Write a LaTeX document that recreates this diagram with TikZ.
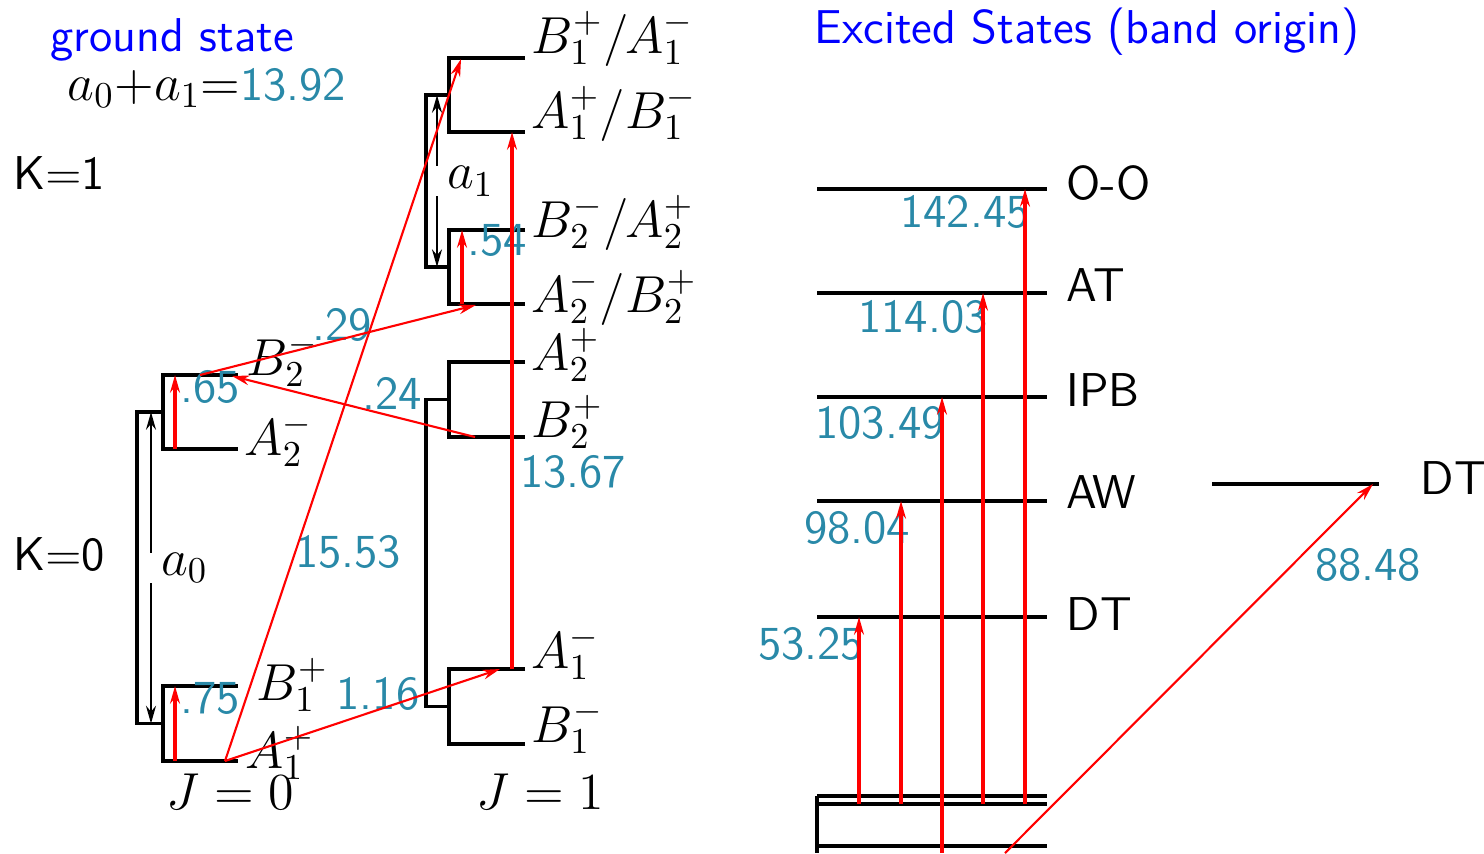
\RequirePackage{fix-cm}
\documentclass[tikz,border=0pt]{standalone}
\usetikzlibrary{arrows.meta}
\definecolor{red}{RGB}{255,0,0}
\definecolor{blue}{RGB}{0,0,255}
\definecolor{num}{RGB}{41,137,168}

\begin{document}
\begin{tikzpicture}[font=\sffamily\fontsize{13.5}{16}\selectfont]
	\def\tip{Stealth[length=5pt,width=2.8pt]}

	\tikzset{lev/.style={draw,line width=1.05pt}}
	\tikzset{brk/.style={draw,line width=0.9pt}}
	\tikzset{arrow/.style={draw,red,line width=0.9pt,-{\tip}}}
	\tikzset{diag/.style={arrow,line width=0.6pt}}
	\tikzset{dim/.style={draw,line width=0.8pt,{\tip}-{\tip}}}
	\tikzset{gaplbl/.style={fill=white,anchor=west,inner xsep=3.5pt,inner ysep=0pt,xshift=-1pt,font=\fontsize{14.8}{18}\selectfont}}
	\tikzset{val/.style={text=num,inner sep=0pt}}
	\tikzset{sym/.style={anchor=base west,inner sep=0pt,font=\fontsize{14.8}{18}\selectfont}}
	\tikzset{lbl/.style={anchor=west,inner sep=0pt}}

	\useasboundingbox (0,0) rectangle (14.84,-8.53);

	% titles
	\node[blue] (gs) at (1.72,-0.40) {ground state};
	\node[anchor=base west,inner sep=0pt] (sum) at (0.67,-1.00) {{\fontsize{14.8}{18}\selectfont$a_0{+}a_1{=}$}\textcolor{num}{13.92}};
	\node (k1) at (0.59,-1.73) {K$=$1};
	\node (k0) at (0.59,-5.55) {K$=$0};
	\node[blue] (es) at (10.87,-0.32) {Excited States (band origin)};

	% J = 0 levels
	\coordinate (a1pL) at (1.63,-7.61);
	\coordinate (a1pR) at (2.38,-7.61);
	\coordinate (b1pL) at (1.63,-6.86);
	\coordinate (b1pR) at (2.38,-6.86);
	\coordinate (a2mL) at (1.63,-4.49);
	\coordinate (a2mR) at (2.38,-4.49);
	\coordinate (b2mL) at (1.63,-3.75);
	\coordinate (b2mR) at (2.38,-3.75);
	\coordinate (k0in) at (1.63,-7.235);
	\coordinate (k0out) at (1.37,-7.235);
	\coordinate (k1in) at (1.63,-4.12);
	\coordinate (k1out) at (1.37,-4.12);
	\coordinate (a0bot) at (1.51,-7.235);
	\coordinate (a0top) at (1.51,-4.12);

	\path[lev] (b1pR) -- (b1pL) -- (a1pL) -- (a1pR);
	\path[lev] (b2mR) -- (b2mL) -- (a2mL) -- (a2mR);
	\path[brk] (k1in) -- (k1out) -- (k0out) -- (k0in);
	\path[dim] (a0top) -- node[gaplbl] {$a_0$} (a0bot);

	% J = 1 levels
	\coordinate (ba1L) at (4.49,-0.58);
	\coordinate (ba1R) at (5.25,-0.58);
	\coordinate (ab1L) at (4.49,-1.32);
	\coordinate (ab1R) at (5.25,-1.32);
	\coordinate (ba2L) at (4.49,-2.30);
	\coordinate (ba2R) at (5.25,-2.30);
	\coordinate (ab2L) at (4.49,-3.04);
	\coordinate (ab2R) at (5.25,-3.04);
	\coordinate (a2pL) at (4.49,-3.62);
	\coordinate (a2pR) at (5.25,-3.62);
	\coordinate (b2pL) at (4.49,-4.37);
	\coordinate (b2pR) at (5.25,-4.37);
	\coordinate (a1mL) at (4.49,-6.69);
	\coordinate (a1mR) at (5.25,-6.69);
	\coordinate (b1mL) at (4.49,-7.44);
	\coordinate (b1mR) at (5.25,-7.44);
	\coordinate (u1in) at (4.49,-0.95);
	\coordinate (u1out) at (4.26,-0.95);
	\coordinate (u2in) at (4.49,-2.67);
	\coordinate (u2out) at (4.26,-2.67);
	\coordinate (a1top) at (4.37,-0.95);
	\coordinate (a1bot) at (4.37,-2.67);
	\coordinate (w1in) at (4.49,-3.995);
	\coordinate (w1out) at (4.26,-3.995);
	\coordinate (w2in) at (4.49,-7.065);
	\coordinate (w2out) at (4.26,-7.065);

	\path[lev] (ba1R) -- (ba1L) -- (ab1L) -- (ab1R);
	\path[lev] (ba2R) -- (ba2L) -- (ab2L) -- (ab2R);
	\path[lev] (a2pR) -- (a2pL) -- (b2pL) -- (b2pR);
	\path[lev] (a1mR) -- (a1mL) -- (b1mL) -- (b1mR);
	\path[brk] (u1in) -- (u1out) -- (u2out) -- (u2in);
	\path[brk] (w1in) -- (w1out) -- (w2out) -- (w2in);
	\path[dim] (a1top) -- node[gaplbl] {$a_1$} (a1bot);

	% symmetry labels
	\node[sym] (lba1) at (5.31,-0.53) {$B_1^+/A_1^-$};
	\node[sym] (lab1) at (5.31,-1.28) {$A_1^+/B_1^-$};
	\node[sym] (lba2) at (5.31,-2.37) {$B_2^-/A_2^+$};
	\node[sym] (lab2) at (5.31,-3.12) {$A_2^-/B_2^+$};
	\node[sym] (la2p) at (5.31,-3.70) {$A_2^+$};
	\node[sym] (lb2p) at (5.31,-4.37) {$B_2^+$};
	\node[sym] (la1m) at (5.31,-6.68) {$A_1^-$};
	\node[sym] (lb1m) at (5.31,-7.42) {$B_1^-$};
	\node[sym] (lb2m) at (2.46,-3.75) {$B_2^-$};
	\node[sym] (la2m) at (2.44,-4.55) {$A_2^-$};
	\node[sym] (lb1p) at (2.56,-7.00) {$B_1^+$};
	\node[sym] (la1p) at (2.45,-7.68) {$A_1^+$};
	\node[sym] (j0) at (1.66,-8.09) {$J = 0$};
	\node[sym] (j1) at (4.76,-8.09) {$J = 1$};

	% tunnelling splittings
	\node[val] (n65) at (2.10,-3.87) {.65};
	\node[val] (n75) at (2.10,-6.98) {.75};
	\node[val] (n54) at (4.97,-2.40) {.54};
	\node[val] (n29) at (3.42,-3.25) {.29};
	\node[val] (n24) at (3.92,-3.93) {.24};
	\node[val] (n1553) at (3.48,-5.52) {15.53};
	\node[val] (n116) at (3.78,-6.94) {1.16};
	\node[val] (n1367) at (5.73,-4.72) {13.67};

	% transitions
	\coordinate (t75s) at (1.75,-7.61);
	\coordinate (t75e) at (1.75,-6.86);
	\coordinate (t65s) at (1.75,-4.49);
	\coordinate (t65e) at (1.75,-3.75);
	\coordinate (t54s) at (4.62,-3.04);
	\coordinate (t54e) at (4.62,-2.30);
	\coordinate (g0) at (2.25,-7.61);
	\coordinate (t1553e) at (4.61,-0.59);
	\coordinate (t116e) at (5.00,-6.69);
	\coordinate (t1367s) at (5.12,-6.69);
	\coordinate (t1367e) at (5.12,-1.32);
	\coordinate (t29s) at (2.00,-3.75);
	\coordinate (t29e) at (4.76,-3.05);
	\coordinate (t24s) at (4.75,-4.37);
	\coordinate (t24e) at (2.32,-3.76);

	\path[arrow] (t75s) to (t75e);
	\path[arrow] (t65s) to (t65e);
	\path[arrow] (t54s) to (t54e);
	\path[arrow] (t1367s) to (t1367e);
	\path[diag] (g0) to (t1553e);
	\path[diag] (g0) to (t116e);
	\path[diag] (t29s) to (t29e);
	\path[diag] (t24s) to (t24e);

	% excited states
	\coordinate (ooL) at (8.17,-1.89);
	\coordinate (ooR) at (10.47,-1.89);
	\coordinate (atL) at (8.17,-2.93);
	\coordinate (atR) at (10.47,-2.93);
	\coordinate (ipbL) at (8.17,-3.97);
	\coordinate (ipbR) at (10.47,-3.97);
	\coordinate (awL) at (8.17,-5.01);
	\coordinate (awR) at (10.47,-5.01);
	\coordinate (dtL) at (8.17,-6.17);
	\coordinate (dtR) at (10.47,-6.17);
	\coordinate (g1L) at (8.17,-7.96);
	\coordinate (g1R) at (10.47,-7.96);
	\coordinate (g2L) at (8.17,-8.04);
	\coordinate (g2R) at (10.47,-8.04);
	\coordinate (g3L) at (8.17,-8.46);
	\coordinate (g3R) at (10.47,-8.46);
	\coordinate (gEnd) at (8.17,-8.53);
	\coordinate (dt2L) at (12.12,-4.84);
	\coordinate (dt2R) at (13.79,-4.84);

	\path[lev] (ooL) -- (ooR);
	\path[lev] (atL) -- (atR);
	\path[lev] (ipbL) -- (ipbR);
	\path[lev] (awL) -- (awR);
	\path[lev] (dtL) -- (dtR);
	\path[lev] (g1L) -- (g1R);
	\path[lev] (g2L) -- (g2R);
	\path[lev] (g3L) -- (g3R);
	\path[brk] (g1L) -- (gEnd);
	\path[brk] (dt2L) -- (dt2R);

	\node[lbl] (loo) at (10.66,-1.83) {O-O};
	\node[lbl] (lat) at (10.66,-2.85) {AT};
	\node[lbl] (lipb) at (10.66,-3.90) {IPB};
	\node[lbl] (law) at (10.66,-4.92) {AW};
	\node[lbl] (ldt) at (10.66,-6.14) {DT};
	\node[lbl] (ldt2) at (14.20,-4.78) {DT};

	\node[val] (n5325) at (8.11,-6.44) {53.25};
	\node[val] (n9804) at (8.57,-5.28) {98.04};
	\node[val] (n10349) at (8.80,-4.23) {103.49};
	\node[val] (n11403) at (9.23,-3.17) {114.03};
	\node[val] (n14245) at (9.65,-2.12) {142.45};
	\node[val] (n8848) at (13.68,-5.65) {88.48};

	\coordinate (e1s) at (8.59,-8.04);
	\coordinate (e1e) at (8.59,-6.17);
	\coordinate (e2s) at (9.01,-8.04);
	\coordinate (e2e) at (9.01,-5.01);
	\coordinate (e3s) at (9.42,-8.53);
	\coordinate (e3e) at (9.42,-3.97);
	\coordinate (e4s) at (9.83,-8.04);
	\coordinate (e4e) at (9.83,-2.93);
	\coordinate (e5s) at (10.25,-8.04);
	\coordinate (e5e) at (10.25,-1.89);
	\coordinate (e6s) at (10.05,-8.53);
	\coordinate (e6e) at (13.73,-4.84);

	\path[arrow] (e1s) to (e1e);
	\path[arrow] (e2s) to (e2e);
	\path[arrow] (e3s) to (e3e);
	\path[arrow] (e4s) to (e4e);
	\path[arrow] (e5s) to (e5e);
	\path[diag] (e6s) to (e6e);
\end{tikzpicture}
\end{document}
